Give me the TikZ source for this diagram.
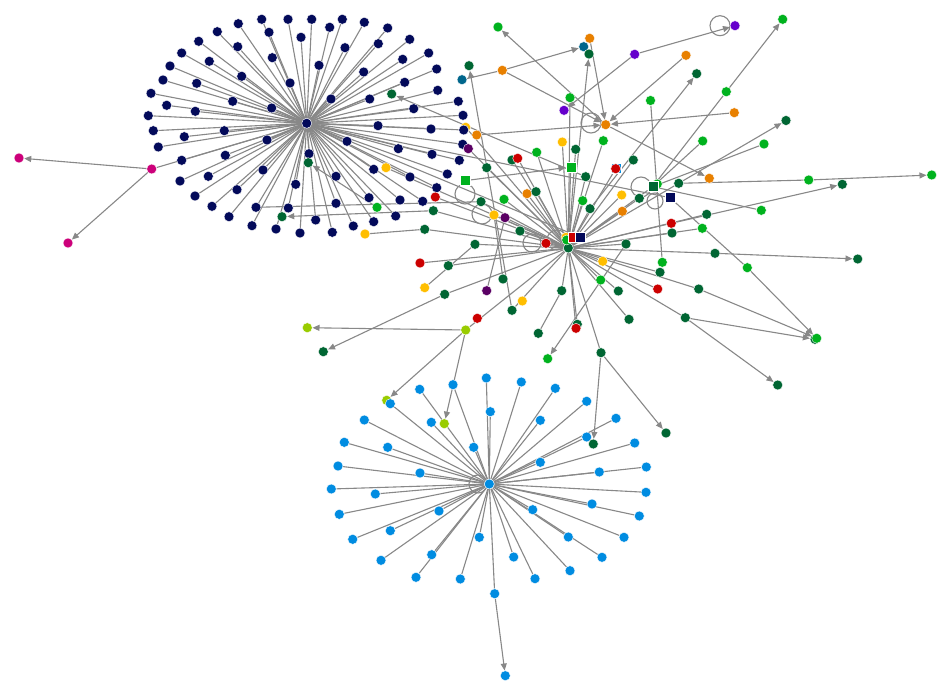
\documentclass[tikz,border=0pt]{standalone}
\usetikzlibrary{arrows.meta}
\pgfdeclarelayer{edgelayer}
\pgfsetlayers{edgelayer,main}
\definecolor{navy}{RGB}{3,10,90}
\definecolor{skyb}{RGB}{0,140,225}
\definecolor{magen}{RGB}{204,0,122}
\definecolor{dkg}{RGB}{0,102,51}
\definecolor{brg}{RGB}{0,178,30}
\definecolor{lime}{RGB}{153,204,0}
\definecolor{orng}{RGB}{232,128,0}
\definecolor{yell}{RGB}{255,190,0}
\definecolor{redd}{RGB}{204,0,0}
\definecolor{purp}{RGB}{102,0,204}
\definecolor{dkp}{RGB}{90,0,100}
\definecolor{teal}{RGB}{0,102,140}
\definecolor{edgegray}{RGB}{136,136,136}
\begin{document}
\begin{tikzpicture}[x=1pt,y=-1pt,
  dot/.style={circle,inner sep=0pt,minimum size=10pt,draw=white,line width=0.4pt},
  sqr/.style={rectangle,inner sep=0pt,minimum size=10pt,draw=white,line width=0.4pt},
  nv/.style={dot,fill=navy}, sb/.style={dot,fill=skyb}, mg/.style={dot,fill=magen},
  dg/.style={dot,fill=dkg}, bg/.style={dot,fill=brg}, lm/.style={dot,fill=lime},
  og/.style={dot,fill=orng}, yw/.style={dot,fill=yell}, rd/.style={dot,fill=redd},
  pu/.style={dot,fill=purp}, dpu/.style={dot,fill=dkp}, tl/.style={dot,fill=teal},
  ed/.style={draw=edgegray,line width=1.1pt},
  ar/.style={ed,-{Triangle[length=7pt,width=6pt]}},
  ring/.style={draw=edgegray,line width=1.1pt}]
\useasboundingbox (0,0) rectangle (950,695);
\begin{pgfonlayer}{edgelayer}
\fill[white] (0,0) rectangle (950,695);
\end{pgfonlayer}

% ---------- nodes drawn behind others ----------
\node[yw] (yC) at (465.7,127.3) {};
\node[lm] (lC) at (386.7,400.3) {};
\node[dg] (dgo) at (815,339.3) {};
\node[bg] (bgN) at (657.3,184) {};
\node[sqr,fill=skyb] (blsq) at (615.7,168.7) {};
\node[yw] (yG) at (566,237.3) {};
\node[dg] (hub) at (568.3,248) {};

% ---------- navy cluster ----------
\node[nv] (nc) at (306.7,123.3) {};
\foreach \x/\y [count=\i] in {261.7/19.3, 288/19.3, 311.7/19.3, 342.3/19.3, 238.3/23.7, 364.3/22.3, 387.7/28, 329.7/27.3, 217.3/31.7, 269/32.3, 301/37.3, 198.7/41.3, 237.7/46.7, 345/47.7, 378.3/43.7, 409.7/39.3, 181.7/53, 272.3/57.7, 209.3/61.3, 319/65.3, 402.7/59.3, 428.7/53, 170/66, 241.7/76.3, 363.7/72, 436.7/69, 163/80, 196.7/83.3, 290/83, 404.7/82.3, 437.7/90.3, 151/93.3, 232.7/101.3, 331/99, 369.7/99, 458.3/101.3, 166.7/105.3, 195.3/111.3, 271.7/108, 413.7/108.7, 148.3/115.7, 463/115.3, 153.3/130.7, 184.3/136.7, 224.3/130.7, 378/125.7, 431/129, 463.7/130, 158.3/147, 267/140, 347/141.3, 398.3/148.7, 462.7/144.3, 181.7/160.3, 225.3/155.3, 309/153.7, 432/154.3, 459.3/160.3, 263/170, 373.7/169.3, 180/181, 208.3/176.3, 295.7/184.3, 336/176.3, 410/177, 447.3/174, 195/196, 237/189.7, 436.7/187.7, 212/206.3, 288.3/208, 369/197.7, 400/200, 422.7/201.3, 336/203.3, 229/216.7, 252/225.7, 276/229, 300/233, 315.7/220, 332.3/232.3, 353.3/226, 373.7/221.7, 395.7/216}
  {\node[nv] (n\i) at (\x,\y) {};}
\node[nv] (nx) at (256,207.3) {};

% ---------- blue cluster ----------
\node[sb] (bc) at (489.3,484) {};
\foreach \x/\y [count=\i] in {486.3/378, 521.3/382, 555.3/388.3, 453/384.7, 419.7/389.3, 390.3/403.7, 586.7/401.3, 490.3/411.7, 364.3/420, 431.3/422.3, 540.3/420.3, 616/418.3, 344.3/442.3, 387.7/447.3, 473.7/447.3, 586.7/437, 634.7/443, 338/466, 420/473, 540.3/462.3, 599.3/472, 646.3/467, 331.3/489, 375.3/494, 646/492.3, 439/511, 592/504, 639.3/516, 339.3/514.3, 532.7/509.7, 390.3/530.7, 352.7/539.3, 479.3/537.3, 568.3/537, 624/537.3, 381/560.3, 431.7/554.7, 513.7/557, 602/557.3, 416/577.3, 460.3/579, 535/578.7, 570/570.7, 494.7/593.7}
  {\node[sb] (b\i) at (\x,\y) {};}
\node[sb] (bb) at (505.3,675.7) {};

% ---------- other nodes ----------
\node[mg] (m0) at (151.7,169) {};
\node[mg] (m1) at (19,158) {};
\node[mg] (m2) at (68,243) {};
\node[dg] (dgA) at (308.3,162.7) {};
\node[dg] (dgB) at (282,216.7) {};
\node[bg] (bgA) at (377,207.3) {};
\node[yw] (yA) at (386,167.7) {};
\node[yw] (yB) at (365,234) {};
\node[og] (oA) at (476.7,135) {};
\node[dpu] (dpA) at (468.3,148.7) {};
\node[dg] (dgC) at (486.7,167.7) {};
\node[rd] (rA) at (435.3,197) {};
\node[dg] (dgD) at (481,201.7) {};
\node[sqr,fill=brg] (bsqA) at (464.7,180.7) {};
\node[dg] (dgE) at (424.7,229.3) {};
\node[dg] (dgF) at (475,244.3) {};
\node[dg] (dgG) at (433.3,210.7) {};
\node[bg] (bgB) at (498,27) {};
\node[tl] (tA) at (462,79.7) {};
\node[dg] (dgH) at (469,65.7) {};
\node[og] (oB) at (502.3,70.3) {};
\node[og] (oC) at (589.7,38.3) {};
\node[tl] (tB) at (583.7,46.7) {};
\node[dg] (dgI) at (589,54) {};
\node[pu] (pA) at (634.7,54.3) {};
\node[bg] (bgC) at (570,97.7) {};
\node[pu] (pB) at (564,110.3) {};
\node[og] (oD) at (605.7,124.7) {};
\node[bg] (bgD) at (650.5,100.5) {};
\node[og] (oE) at (686,55.3) {};
\node[dg] (dgJ) at (696.7,73.7) {};
\node[bg] (bgE) at (726.3,91.7) {};
\node[og] (oF) at (734.3,112.7) {};
\node[bg] (bgF) at (782.7,19.3) {};
\node[pu] (pC) at (735,25.7) {};
\node[dg] (dgK) at (786,120.5) {};
\node[bg] (bgG) at (764,144) {};
\node[bg] (bgH) at (808.7,180) {};
\node[dg] (dgL) at (842.3,184.3) {};
\node[bg] (bgI) at (931.7,175) {};
\node[bg] (bgJ) at (761.3,210.3) {};
\node[bg] (bgK) at (702.7,141) {};
\node[dg] (dgM) at (391.7,94) {};
\node[yw] (yD) at (562.3,142) {};
\node[bg] (bgL) at (536.7,152.3) {};
\node[dg] (dgN) at (575.7,149.3) {};
\node[dg] (dgO) at (512,160) {};
\node[rd] (rB) at (517.7,158.3) {};
\node[sqr,fill=brg] (bsqB) at (570.7,167) {};
\node[dg] (dgP) at (585.7,176.7) {};
\node[bg] (bgM) at (603.3,140.7) {};
\node[dg] (dgQ) at (633.3,160) {};
\node[rd] (rC) at (615.7,168.7) {};
\node[sqr,fill=dkg] (dsq) at (652.7,186.7) {};
\node[dg] (dgR) at (678.7,183.3) {};
\node[og] (oG) at (709.3,178.3) {};
\node[sqr,fill=navy] (nsqA) at (670,197.7) {};
\node[yw] (yE) at (621.7,195) {};
\node[dg] (dgS) at (639.3,198.3) {};
\node[og] (oH) at (622.3,211.3) {};
\node[bg] (bgO) at (582.7,200.7) {};
\node[dg] (dgT) at (590,208.7) {};
\node[dg] (dgU) at (706.7,214.3) {};
\node[bg] (bgP) at (702.3,228.3) {};
\node[rd] (rD) at (671.3,223.3) {};
\node[dg] (dgV) at (672,233) {};
\node[og] (oI) at (527,193.7) {};
\node[dg] (dgW) at (536,191.7) {};
\node[bg] (bgQ) at (504,199.3) {};
\node[yw] (yF) at (494,215) {};
\node[dpu] (dpB) at (505,217.7) {};
\node[dg] (dgX) at (520,231) {};
\node[rd] (rE) at (546,243.3) {};
\node[bg] (bgR) at (566.7,240) {};
\node[sqr,fill=redd] (rsq) at (573.3,237.3) {};
\node[sqr,fill=navy] (nsqB) at (580.3,237.3) {};
\node[dg] (dgY) at (626,244) {};
\node[rd] (rF) at (420,263) {};
\node[dg] (dgZ) at (448.3,265.7) {};
\node[yw] (yH) at (424.7,287.7) {};
\node[dg] (dga) at (503,279) {};
\node[dpu] (dpC) at (486.7,290.7) {};
\node[dg] (dgb) at (444.7,294.3) {};
\node[yw] (yI) at (522.3,301) {};
\node[dg] (dgc) at (512,310.3) {};
\node[rd] (rG) at (477.3,318.3) {};
\node[lm] (lA) at (465.7,330) {};
\node[lm] (lB) at (307.3,327.7) {};
\node[dg] (dgd) at (323.3,351.7) {};
\node[dg] (dge) at (538.3,333.3) {};
\node[bg] (bgS) at (547.7,358.7) {};
\node[dg] (dgf) at (561.7,290.7) {};
\node[yw] (yJ) at (602.7,261.3) {};
\node[bg] (bgT) at (662.3,262.3) {};
\node[dg] (dgg) at (660,272.3) {};
\node[dg] (dgh) at (715,253.3) {};
\node[dg] (dgi) at (857.7,259) {};
\node[bg] (bgU) at (747.3,267.7) {};
\node[bg] (bgV) at (600.7,280) {};
\node[dg] (dgj) at (618.3,291) {};
\node[rd] (rH) at (657.7,289) {};
\node[dg] (dgk) at (698.7,289) {};
\node[dg] (dgl) at (629,319.3) {};
\node[dg] (dgm) at (685.3,317.7) {};
\node[dg] (dgn) at (577.3,324.3) {};
\node[rd] (rI) at (576,328.3) {};
\node[bg] (bgW) at (816.7,338.3) {};
\node[dg] (dgp) at (601,352.7) {};
\node[dg] (dgq) at (777.7,385) {};
\node[dg] (dgr) at (593.3,444) {};
\node[dg] (dgs) at (666,433) {};
\node[lm] (lD) at (444.3,423.7) {};

% ---------- edges ----------
\begin{pgfonlayer}{edgelayer}
\foreach \i in {1,...,84} {\draw[ed] (nc) -- (n\i);}
\draw[ed] (nc) -- (nx);
\foreach \i in {1,...,44} {\draw[ed] (bc) -- (b\i);}
\draw[ar] (b44) -- (bb);
\foreach \t in {rE,dgF,dgX,dgW,oI,bgQ,dgD,dgC,dgO,rB,bgL,yD,dgN,bgC,bsqB,dgP,bgM,dgQ,rC,yE,dgS,oH,bgO,dgT,dgY,dsq,rD,dgV,bgP,dgU,dgR,yA,dpA,yC,rA,dgG,dgE,yF,dpB,rF,dgZ,yJ,dgg,dgj,bgV,rH,dgl,dgf,rI,dgn,dgk,dgm,dgh,dgp,lA,dgb,dgc}
  {\draw[ed] (hub) -- (\t);}
\draw[ed] (nc) -- (m0);
\draw[ar] (m0) -- (m1);
\draw[ar] (m0) -- (m2);
\draw[ar] (bgA) -- (dgA);
\draw[ar] (dgG) -- (dgB);
\draw[ed] (yB) -- (dgE);
\draw[ed] (tA) -- (oB);
\draw[ar] (oB) -- (tB);
\draw[ar] (oB) -- (oD);
\draw[ar] (dgc) -- (dgH);
\draw[ar] (oD) -- (bgB);
\draw[ar] (oC) -- (oD);
\draw[ar] (hub) -- (dgI);
\draw[ar] (pA) -- (pB);
\draw[ar] (pA) -- (pC);
\draw[ar] (oE) -- (oD);
\draw[ar] (dgT) -- (dgJ);
\draw[ed] (dsq) -- (bgE);
\draw[ar] (bgE) -- (bgF);
\draw[ar] (oF) -- (oD);
\draw[ar] (dgR) -- (dgK);
\draw[ed] (dsq) -- (bgG);
\draw[ed] (dgR) -- (bgH);
\draw[ar] (bgH) -- (bgI);
\draw[ar] (rD) -- (dgL);
\draw[ed] (dsq) -- (bgJ);
\draw[ed] (bgD) -- (bgT);
\draw[ar] (oD) -- (oG);
\draw[ed] (dsq) -- (bgK);
\draw[ar] (oA) -- (oD);
\draw[ar] (bsqA) -- (bsqB);
\draw[ar] (dgP) -- (dgM);
\draw[ed] (nsqA) -- (bgU);
\draw[ar] (bgU) -- (bgW);
\draw[ar] (dgh) -- (dgi);
\draw[ar] (dgk) -- (bgW);
\draw[ar] (dgm) -- (dgo);
\draw[ar] (dgm) -- (dgq);
\draw[ar] (dgp) -- (dgr);
\draw[ar] (dgp) -- (dgs);
\draw[ar] (dgY) -- (bgS);
\draw[ed] (dge) -- (dgf);
\draw[ar] (lA) -- (lB);
\draw[ar] (lA) -- (lC);
\draw[ar] (lA) -- (lD);
\draw[ar] (dgb) -- (dgd);
\draw[ed] (yH) -- (dgF);
\draw[ed] (dpC) -- (dpB);
\draw[ed] (dga) -- (yF);
\draw[ed] (nc) -- (nsqB);
\draw[ed] (nc) -- (nsqA);
\draw[ed] (nx) -- (dgD);
% self loops
\draw[ring] (720,25.7) circle (10);
\draw[ring] (591,123) circle (10);
\draw[ring] (465,194) circle (10);
\draw[ring] (482,214) circle (10);
\draw[ring] (641,187) circle (10);
\draw[ring] (655,201) circle (8);
\draw[ring] (532,243) circle (9);
\draw[ring] (557,240) circle (10);
\draw[ring] (478,484) circle (9);
\end{pgfonlayer}
\end{tikzpicture}
\end{document}
